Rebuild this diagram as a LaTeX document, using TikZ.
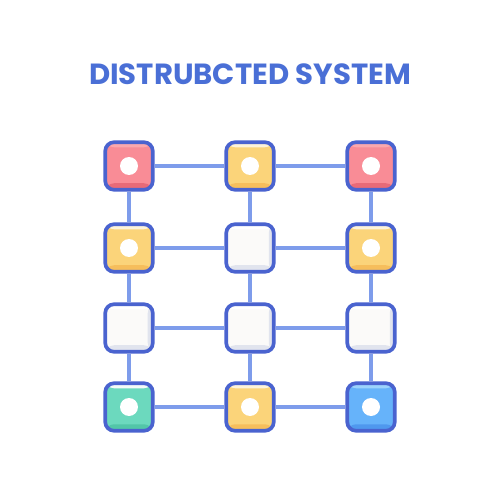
\documentclass[tikz,border=0pt]{standalone}
\usepackage{fontspec}
\setsansfont{Poppins}
\usetikzlibrary{backgrounds}
\definecolor{titleblue}{HTML}{4A6FD6}
\definecolor{edgeblue}{HTML}{4A63CF}
\definecolor{linkblue}{HTML}{7E9CEB}
\definecolor{redA}{HTML}{F98C96}
\definecolor{redB}{HTML}{E86A78}
\definecolor{redC}{HTML}{FBA8AE}
\definecolor{yelA}{HTML}{FBD47A}
\definecolor{yelB}{HTML}{F6BE5C}
\definecolor{yelC}{HTML}{FDF3DA}
\definecolor{whA}{HTML}{FBFAF9}
\definecolor{whB}{HTML}{E1E4EE}
\definecolor{whC}{HTML}{FFFFFF}
\definecolor{grnA}{HTML}{6CD9BE}
\definecolor{grnB}{HTML}{52C6A8}
\definecolor{grnC}{HTML}{F4FBF9}
\definecolor{bluA}{HTML}{66B3FA}
\definecolor{bluB}{HTML}{4F98EE}
\definecolor{bluC}{HTML}{9CD3FC}
\pgfdeclarelayer{links}
\pgfsetlayers{background,links,main}
\tikzset{
  cell/.style n args={4}{draw=edgeblue, line width=2.1pt, rounded corners=5pt,
    minimum size=0.95cm, inner sep=0pt, fill=#1,
    path picture={
      \fill[#2] ([yshift=0.13cm]path picture bounding box.south west) rectangle (path picture bounding box.south east);
      \fill[#3] (path picture bounding box.north west) rectangle ([yshift=-0.1cm]path picture bounding box.north east);
      #4
    }},
  dotted cell/.style n args={3}{cell={#1}{#2}{#3}{\fill[white] (path picture bounding box.center) circle (0.18cm);}},
  plain cell/.style={cell={whA}{whB}{whC}{\fill[whB] ([xshift=-0.1cm]path picture bounding box.north east) rectangle (path picture bounding box.south east);}},
  redcell/.style={dotted cell={redA}{redB}{redC}},
  yelcell/.style={dotted cell={yelA}{yelB}{yelC}},
  grncell/.style={dotted cell={grnA}{grnB}{grnC}},
  blucell/.style={dotted cell={bluA}{bluB}{bluC}},
  link/.style={draw=linkblue, line width=2.1pt},
  title/.style={text=titleblue, font=\sffamily\bfseries\fontsize{16.6}{19}\selectfont}
}
\begin{document}
\begin{tikzpicture}[x=0.02cm, y=-0.02cm]
\useasboundingbox (0,0) rectangle (500,500);
\node[title] (t) at (250,74) {DISTRUBCTED SYSTEM};
\node[redcell] (a1) at (129,166) {};
\node[yelcell] (a2) at (250,166) {};
\node[redcell] (a3) at (371,166) {};
\node[yelcell] (b1) at (129,248) {};
\node[plain cell] (b2) at (250,248) {};
\node[yelcell] (b3) at (371,248) {};
\node[plain cell] (c1) at (129,328) {};
\node[plain cell] (c2) at (250,328) {};
\node[plain cell] (c3) at (371,328) {};
\node[grncell] (d1) at (129,407) {};
\node[yelcell] (d2) at (250,407) {};
\node[blucell] (d3) at (371,407) {};
\begin{pgfonlayer}{links}
\foreach \r in {a,b,c,d}{
  \draw[link] (\r1) -- (\r2);
  \draw[link] (\r2) -- (\r3);
}
\foreach \c in {1,2,3}{
  \draw[link] (a\c) -- (b\c);
  \draw[link] (b\c) -- (c\c);
  \draw[link] (c\c) -- (d\c);
}
\end{pgfonlayer}
\end{tikzpicture}
\end{document}
